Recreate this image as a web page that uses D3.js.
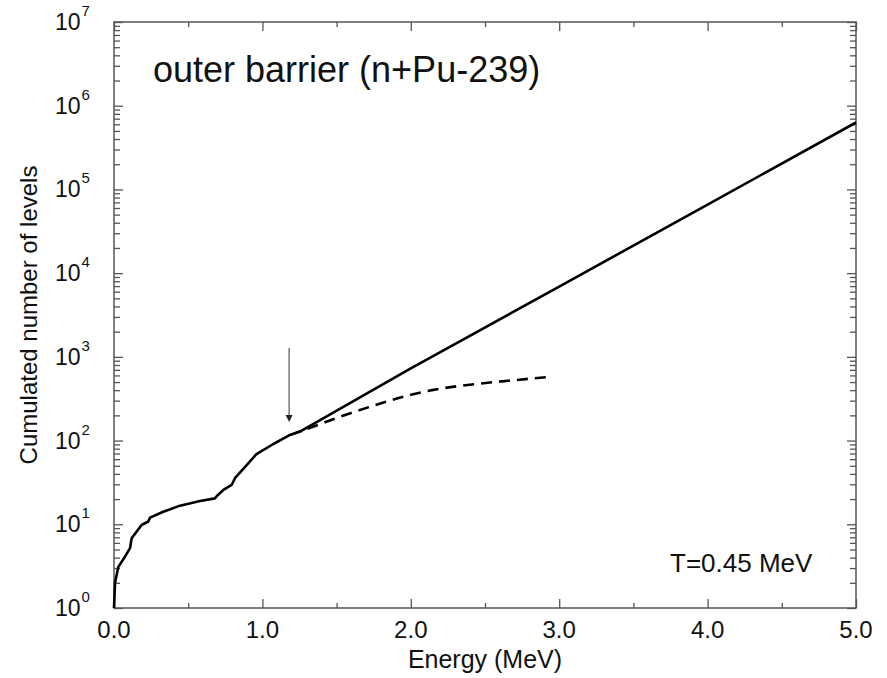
<!DOCTYPE html>
<html>
<head>
<meta charset="utf-8">
<script src="https://cdn.jsdelivr.net/npm/d3@7"></script>
<style>
  body { margin: 0; background: #fff; }
  text { font-family: "Liberation Sans", Arial, Helvetica, sans-serif; fill: #111; }
</style>
</head>
<body>
<svg></svg>
<script>
// cumulated levels (energy in MeV, number of levels)
const solidE = [0, 0.007, 0.029, 0.074, 0.108, 0.119, 0.186, 0.231, 0.243, 0.332, 0.445, 0.58, 0.68, 0.70, 0.737, 0.793, 0.815, 0.894, 0.96, 1.074, 1.186, 1.253, 2.0, 3.0, 4.0, 5.0];
const solidN = [1, 2, 3.1, 4.1, 5.2, 6.8, 9.8, 10.8, 12, 14.1, 16.7, 19, 20.4, 22.4, 25.7, 29.5, 35.5, 51, 69, 91, 117, 128, 730, 6900, 66000, 630000];

const dashE = [1.19, 1.253, 1.4, 1.568, 1.838, 1.995, 2.152, 2.489, 2.714, 2.95];
const dashN = [117, 128, 160, 205, 292, 351, 403, 484, 530, 580];

const xTicks = [0, 1, 2, 3, 4, 5];
const xMinor = [0.5, 1.5, 2.5, 3.5, 4.5];
const decades = [0, 1, 2, 3, 4, 5, 6, 7];

// arrow marking the point where the level scheme is complete
const arrowE = 1.18, arrowFrom = 1277, arrowTo = 167;

const svgWidth = 887, svgHeight = 678;
const margin = { top: 22, right: 31, bottom: 70, left: 114 };
const width = svgWidth - margin.left - margin.right;
const height = svgHeight - margin.top - margin.bottom;

const svg = d3.select("svg")
    .attr("width", svgWidth)
    .attr("height", svgHeight);

const g = svg.append("g")
    .attr("transform", "translate(" + margin.left + "," + margin.top + ")");

const x = d3.scaleLinear().domain([0, 5]).range([0, width]);
const y = d3.scaleLog().domain([1, 1e7]).range([height, 0]);

const yMajor = decades.map(d => Math.pow(10, d));
const yMinor = [];
decades.slice(0, -1).forEach(d => {
    for (let k = 2; k <= 9; k++) yMinor.push(k * Math.pow(10, d));
});

function styleAxis(sel) {
    sel.select(".domain").remove();
    sel.selectAll(".tick line").attr("stroke", "#555").attr("stroke-width", 1.3);
    sel.selectAll(".tick text").remove();
}

// inward ticks on all four sides
g.append("g").attr("transform", "translate(0," + height + ")")
    .call(d3.axisBottom(x).tickValues(xTicks).tickSize(-9).tickSizeOuter(0)).call(styleAxis);
g.append("g").attr("transform", "translate(0," + height + ")")
    .call(d3.axisBottom(x).tickValues(xMinor).tickSize(-5).tickSizeOuter(0)).call(styleAxis);
g.append("g")
    .call(d3.axisTop(x).tickValues(xTicks).tickSize(-9).tickSizeOuter(0)).call(styleAxis);
g.append("g")
    .call(d3.axisTop(x).tickValues(xMinor).tickSize(-5).tickSizeOuter(0)).call(styleAxis);

g.append("g")
    .call(d3.axisLeft(y).tickValues(yMajor).tickSize(-9).tickSizeOuter(0)).call(styleAxis);
g.append("g")
    .call(d3.axisLeft(y).tickValues(yMinor).tickSize(-6).tickSizeOuter(0)).call(styleAxis);
g.append("g").attr("transform", "translate(" + width + ",0)")
    .call(d3.axisRight(y).tickValues(yMajor).tickSize(-9).tickSizeOuter(0)).call(styleAxis);
g.append("g").attr("transform", "translate(" + width + ",0)")
    .call(d3.axisRight(y).tickValues(yMinor).tickSize(-6).tickSizeOuter(0)).call(styleAxis);

// frame
g.append("rect")
    .attr("width", width)
    .attr("height", height)
    .attr("fill", "none")
    .attr("stroke", "#555")
    .attr("stroke-width", 1.5);

// x tick labels
g.selectAll(".xlab")
    .data(xTicks)
    .enter().append("text")
    .attr("x", d => x(d))
    .attr("y", height + 30)
    .attr("text-anchor", "middle")
    .style("font-size", "24px")
    .text(d => d.toFixed(1));

// y tick labels, 10 with a superscript exponent
const ylab = g.selectAll(".ylab")
    .data(decades)
    .enter().append("text")
    .attr("x", -59)
    .attr("y", d => y(Math.pow(10, d)) + 8)
    .style("font-size", "23px");
ylab.append("tspan").text("10");
ylab.append("tspan")
    .attr("dy", -14)
    .attr("dx", 1)
    .style("font-size", "15px")
    .text(d => d);

// axis titles
g.append("text")
    .attr("x", width / 2)
    .attr("y", height + 60)
    .attr("text-anchor", "middle")
    .style("font-size", "25px")
    .text("Energy (MeV)");

g.append("text")
    .attr("transform", "translate(-77," + (height / 2) + ") rotate(-90)")
    .attr("text-anchor", "middle")
    .style("font-size", "24px")
    .text("Cumulated number of levels");

// curves
const line = d3.line()
    .x(d => x(d[0]))
    .y(d => y(d[1]));

g.append("path")
    .datum(d3.zip(solidE, solidN))
    .attr("fill", "none")
    .attr("stroke", "#000")
    .attr("stroke-width", 2.6)
    .attr("stroke-linejoin", "round")
    .attr("d", line);

g.append("path")
    .datum(d3.zip(dashE, dashN))
    .attr("fill", "none")
    .attr("stroke", "#000")
    .attr("stroke-width", 2.6)
    .attr("stroke-dasharray", "11,7")
    .attr("d", line.curve(d3.curveMonotoneX));

// arrow
g.append("line")
    .attr("x1", x(arrowE)).attr("x2", x(arrowE))
    .attr("y1", y(arrowFrom)).attr("y2", y(arrowTo) - 6)
    .attr("stroke", "#777")
    .attr("stroke-width", 1.5);
g.append("path")
    .attr("d", "M" + (x(arrowE) - 3.5) + "," + (y(arrowTo) - 7) +
               "L" + (x(arrowE) + 3.5) + "," + (y(arrowTo) - 7) +
               "L" + x(arrowE) + "," + y(arrowTo) + "Z")
    .attr("fill", "#222");

// annotations
g.append("text")
    .attr("x", 39)
    .attr("y", 60)
    .style("font-size", "36px")
    .text("outer barrier (n+Pu-239)");

g.append("text")
    .attr("x", 556)
    .attr("y", height - 36)
    .style("font-size", "26px")
    .text("T=0.45 MeV");
</script>
</body>
</html>
